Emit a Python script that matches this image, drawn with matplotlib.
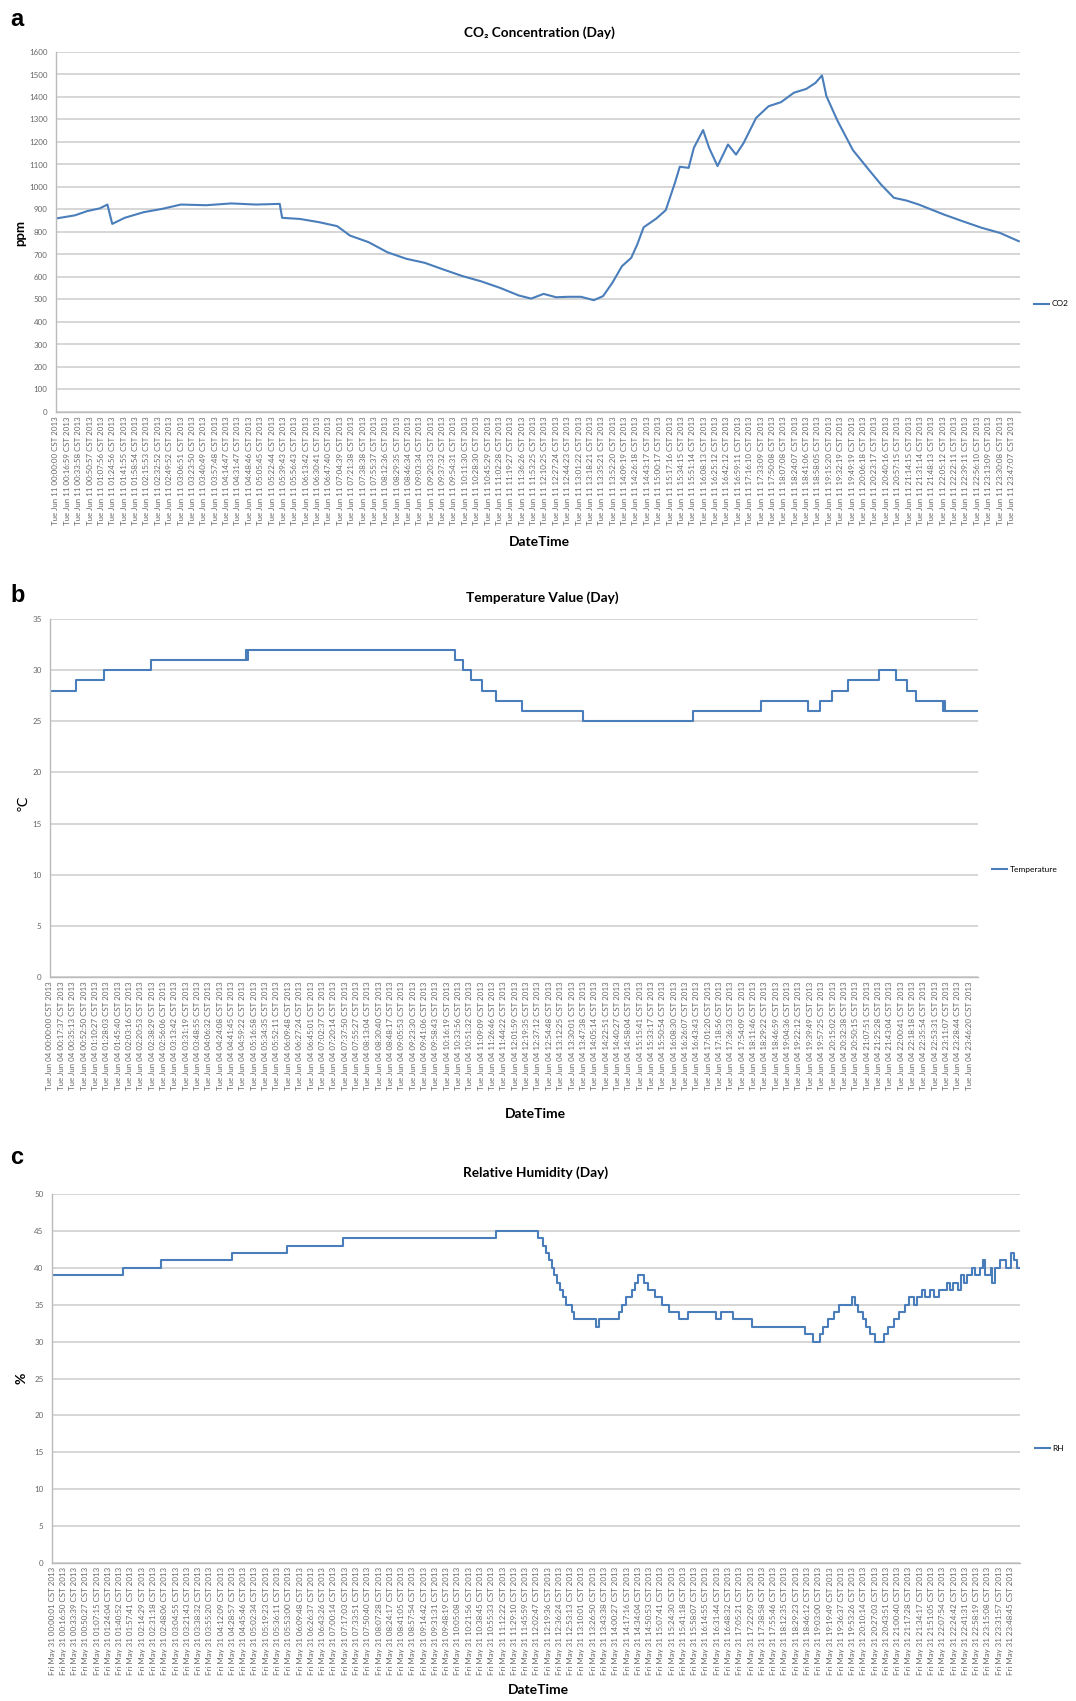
import matplotlib
matplotlib.use('Agg')
import matplotlib.pyplot as plt

plt.rcParams['font.family'] = ['Lato', 'DejaVu Sans']

W, H = 1076, 1701
line_col = '#4a7ebb'
grid_col = '#cccccc'
tick_col = '#666666'

# tick label times
co2_ticks = ['00:00:00', '00:16:59', '00:33:58', '00:50:57', '01:07:56', '01:24:56', '01:41:55',
             '01:58:54', '02:15:53', '02:32:52', '02:49:52', '03:06:51', '03:23:50', '03:40:49',
             '03:57:48', '04:14:47', '04:31:47', '04:48:46', '05:05:45', '05:22:44', '05:39:43',
             '05:56:43', '06:13:42', '06:30:41', '06:47:40', '07:04:39', '07:21:38', '07:38:38',
             '07:55:37', '08:12:36', '08:29:35', '08:46:34', '09:03:34', '09:20:33', '09:37:32',
             '09:54:31', '10:11:30', '10:28:30', '10:45:29', '11:02:28', '11:19:27', '11:36:26',
             '11:53:25', '12:10:25', '12:27:24', '12:44:23', '13:01:22', '13:18:21', '13:35:21',
             '13:52:20', '14:09:19', '14:26:18', '14:43:17', '15:00:17', '15:17:16', '15:34:15',
             '15:51:14', '16:08:13', '16:25:12', '16:42:12', '16:59:11', '17:16:10', '17:33:09',
             '17:50:08', '18:07:08', '18:24:07', '18:41:06', '18:58:05', '19:15:20', '19:32:19',
             '19:49:19', '20:06:18', '20:23:17', '20:40:16', '20:57:15', '21:14:15', '21:31:14',
             '21:48:13', '22:05:12', '22:22:11', '22:39:11', '22:56:10', '23:13:09', '23:30:08',
             '23:47:07']
temp_ticks = ['00:00:00', '00:17:37', '00:35:13', '00:52:50', '01:10:27', '01:28:03', '01:45:40',
              '02:03:16', '02:20:53', '02:38:29', '02:56:06', '03:13:42', '03:31:19', '03:48:55',
              '04:06:32', '04:24:08', '04:41:45', '04:59:22', '05:16:58', '05:34:35', '05:52:11',
              '06:09:48', '06:27:24', '06:45:01', '07:02:37', '07:20:14', '07:37:50', '07:55:27',
              '08:13:04', '08:30:40', '08:48:17', '09:05:53', '09:23:30', '09:41:06', '09:58:43',
              '10:16:19', '10:33:56', '10:51:32', '11:09:09', '11:26:46', '11:44:22', '12:01:59',
              '12:19:35', '12:37:12', '12:54:48', '13:12:25', '13:30:01', '13:47:38', '14:05:14',
              '14:22:51', '14:40:27', '14:58:04', '15:15:41', '15:33:17', '15:50:54', '16:08:30',
              '16:26:07', '16:43:43', '17:01:20', '17:18:56', '17:36:33', '17:54:09', '18:11:46',
              '18:29:22', '18:46:59', '19:04:36', '19:22:12', '19:39:49', '19:57:25', '20:15:02',
              '20:32:38', '20:50:15', '21:07:51', '21:25:28', '21:43:04', '22:00:41', '22:18:18',
              '22:35:54', '22:53:31', '23:11:07', '23:28:44', '23:46:20']
rh_ticks = ['00:00:01', '00:16:50', '00:33:39', '00:50:27', '01:07:15', '01:24:04', '01:40:52',
            '01:57:41', '02:14:29', '02:31:18', '02:48:06', '03:04:55', '03:21:43', '03:38:32',
            '03:55:20', '04:12:09', '04:28:57', '04:45:46', '05:02:34', '05:19:23', '05:36:11',
            '05:53:00', '06:09:48', '06:26:37', '06:43:26', '07:00:14', '07:17:03', '07:33:51',
            '07:50:40', '08:07:28', '08:24:17', '08:41:05', '08:57:54', '09:14:42', '09:31:31',
            '09:48:19', '10:05:08', '10:21:56', '10:38:45', '10:55:33', '11:12:22', '11:29:10',
            '11:45:59', '12:02:47', '12:19:36', '12:36:24', '12:53:13', '13:10:01', '13:26:50',
            '13:43:38', '14:00:27', '14:17:16', '14:34:04', '14:50:53', '15:07:41', '15:24:30',
            '15:41:18', '15:58:07', '16:14:55', '16:31:44', '16:48:32', '17:05:21', '17:22:09',
            '17:38:58', '17:55:46', '18:12:35', '18:29:23', '18:46:12', '19:03:00', '19:19:49',
            '19:36:37', '19:53:26', '20:10:14', '20:27:03', '20:43:51', '21:00:40', '21:17:28',
            '21:34:17', '21:51:05', '22:07:54', '22:24:42', '22:41:31', '22:58:19', '23:15:08',
            '23:31:57', '23:48:45']

# CO2 (ppm), time in hours
co2_t = [0.00, 0.47, 0.78, 1.09, 1.28, 1.40, 1.71, 2.18, 2.65, 3.11, 3.74, 4.36, 4.98, 5.57,
         5.63, 6.07, 6.54, 7.00, 7.32, 7.78, 8.25, 8.72, 9.18, 9.65, 10.12, 10.58, 11.05, 11.52,
         11.83, 12.14, 12.45, 12.76, 13.07, 13.39, 13.62, 13.85, 14.09, 14.32, 14.47, 14.63,
         14.94, 15.18, 15.41, 15.53, 15.75, 15.88, 16.11, 16.26, 16.47, 16.73, 16.93, 17.12,
         17.43, 17.74, 18.05, 18.37, 18.68, 18.91, 19.07, 19.18, 19.46, 19.84, 20.23, 20.54,
         20.86, 21.17, 21.48, 21.79, 22.10, 22.57, 23.04, 23.50, 23.97]
co2_v = [860, 874, 893, 905, 922, 836, 863, 888, 903, 922, 919, 927, 922, 925,
         863, 858, 844, 826, 784, 755, 710, 681, 663, 633, 604, 581, 552, 518,
         504, 525, 510, 512, 512, 497, 515, 574, 648, 685, 744, 821,
         859, 897, 1019, 1090, 1085, 1174, 1253, 1174, 1093, 1189, 1144, 1196,
         1307, 1359, 1377, 1419, 1436, 1463, 1496, 1404, 1293, 1164, 1078, 1011,
         952, 940, 922, 900, 878, 848, 819, 796, 759]

# temperature (deg C), step changes
temp_t = [0.00, 0.68, 1.40, 2.60, 5.07, 5.09, 5.12, 10.47, 10.68, 10.88, 11.16, 11.53, 12.20,
          13.78, 16.62, 18.40, 19.60, 19.92, 20.22, 20.65, 21.43, 21.89, 22.16, 22.39, 23.10,
          23.12, 23.15, 24.00]
temp_v = [28, 29, 30, 31, 32, 31, 32, 31, 30, 29, 28, 27, 26,
          25, 26, 27, 26, 27, 28, 29, 30, 29, 28, 27, 26,
          27, 26, 26]

# relative humidity (%), step changes
rh_t = [0.00, 1.77, 2.70, 4.48, 5.83, 7.22, 11.02, 12.08, 12.19, 12.28, 12.36, 12.42, 12.48,
        12.54, 12.62, 12.70, 12.78, 12.93, 12.98, 13.52, 13.60, 14.09, 14.17, 14.25, 14.40,
        14.48, 14.56, 14.71, 14.82, 14.99, 15.15, 15.33, 15.57, 15.80, 16.50, 16.62, 16.93,
        17.40, 18.71, 18.90, 19.09, 19.16, 19.29, 19.44, 19.55, 19.88, 19.94, 20.03, 20.14,
        20.23, 20.33, 20.45, 20.68, 20.76, 20.91, 21.04, 21.19, 21.30, 21.41, 21.50, 21.61,
        21.69, 21.81, 21.92, 22.03, 22.23, 22.31, 22.39, 22.50, 22.59, 22.65, 22.74, 22.85,
        22.93, 23.05, 23.12, 23.19, 23.32, 23.36, 23.43, 23.55, 23.71, 23.83, 23.91, 23.97,
        24.02]
rh_v = [39, 40, 41, 42, 43, 44, 45, 44, 43, 42, 41, 40, 39,
        38, 37, 36, 35, 34, 33, 32, 33, 34, 35, 36, 37,
        38, 39, 38, 37, 36, 35, 34, 33, 34, 33, 34, 33,
        32, 31, 30, 31, 32, 33, 34, 35, 36, 35, 34, 33,
        32, 31, 30, 31, 32, 33, 34, 35, 36, 35, 36, 37,
        36, 37, 36, 37, 38, 37, 38, 37, 39, 38, 39, 40,
        39, 40, 41, 39, 40, 38, 40, 41, 40, 42, 41, 40,
        40]


def to_hours(s):
    h, m, sec = s.split(':')
    return int(h) + int(m) / 60 + int(sec) / 3600


def rect(l, t, r, b):
    return [l / W, 1 - b / H, (r - l) / W, (b - t) / H]


def style_axes(ax, ymax, ystep, ticks, prefix, xmax):
    ax.set_ylim(0, ymax)
    ax.set_xlim(0, xmax)
    ax.set_yticks(range(0, ymax + 1, ystep))
    ax.grid(axis='y', color=grid_col, lw=1.1)
    ax.set_axisbelow(True)
    for s in ['top', 'right']:
        ax.spines[s].set_visible(False)
    for s in ['left', 'bottom']:
        ax.spines[s].set_color('#bbbbbb')
        ax.spines[s].set_linewidth(1.0)
    ax.set_xticks([to_hours(t) for t in ticks],
                  [prefix + t + ' CST 2013' for t in ticks], rotation=90)
    ax.tick_params(axis='x', length=0, pad=3, labelsize=5.7, labelcolor=tick_col)
    ax.tick_params(axis='y', length=0, pad=6, labelsize=5.8, labelcolor=tick_col)


fig = plt.figure(figsize=(W / 100, H / 100), dpi=100)

# panel a
ax1 = fig.add_axes(rect(56, 52, 1020, 412))
ax1.plot(co2_t, co2_v, color=line_col, lw=1.5, label='CO2')
style_axes(ax1, 1600, 100, co2_ticks, 'Tue Jun 11 ', 24.0)
ax1.legend(loc='center left', bbox_to_anchor=(1.015, 0.30), frameon=False, fontsize=6,
           handlelength=1.8, handletextpad=0.3, borderpad=0, borderaxespad=0)

# panel b
ax2 = fig.add_axes(rect(50, 619, 978, 977))
ax2.step(temp_t, temp_v, where='post', color=line_col, lw=1.5, label='Temperature')
style_axes(ax2, 35, 5, temp_ticks, 'Tue Jun 04 ', 24.0)
ax2.legend(loc='center left', bbox_to_anchor=(1.015, 0.30), frameon=False, fontsize=6,
           handlelength=1.8, handletextpad=0.3, borderpad=0, borderaxespad=0)

# panel c
ax3 = fig.add_axes(rect(52, 1194, 1020, 1563))
ax3.step(rh_t, rh_v, where='post', color=line_col, lw=1.5, label='RH')
style_axes(ax3, 50, 5, rh_ticks, 'Fri May 31 ', 24.05)
ax3.legend(loc='center left', bbox_to_anchor=(1.015, 0.31), frameon=False, fontsize=6,
           handlelength=1.8, handletextpad=0.3, borderpad=0, borderaxespad=0)

# texts
def ftext(x, y, s, **kw):
    fig.text(x / W, 1 - y / H, s, **kw)

for letter, y in [('a', 20), ('b', 595), ('c', 1158)]:
    ftext(10, y, letter, fontsize=17, fontweight='bold', family=['Liberation Sans', 'DejaVu Sans'],
          ha='left', va='center')

ftext(539, 33, 'CO₂ Concentration (Day)', fontsize=9.8, fontweight='bold', ha='center', va='center')
ftext(542, 598, 'Temperature Value (Day)', fontsize=9.8, fontweight='bold', ha='center', va='center')
ftext(536, 1173, 'Relative Humidity (Day)', fontsize=9.8, fontweight='bold', ha='center', va='center')

ftext(539, 542, 'DateTime', fontsize=10, fontweight='bold', ha='center', va='center')
ftext(535, 1114, 'DateTime', fontsize=10, fontweight='bold', ha='center', va='center')
ftext(538, 1690, 'DateTime', fontsize=10, fontweight='bold', ha='center', va='center')

ftext(20, 233, 'ppm', fontsize=9.5, fontweight='bold', rotation=90, ha='center', va='center')
ftext(22, 803, '℃', fontsize=10, rotation=90, ha='center', va='center',
      family=['DejaVu Sans'])
ftext(22, 1378, '%', fontsize=10, fontweight='bold', rotation=90, ha='center', va='center')

fig.savefig('out.png', dpi=100)
